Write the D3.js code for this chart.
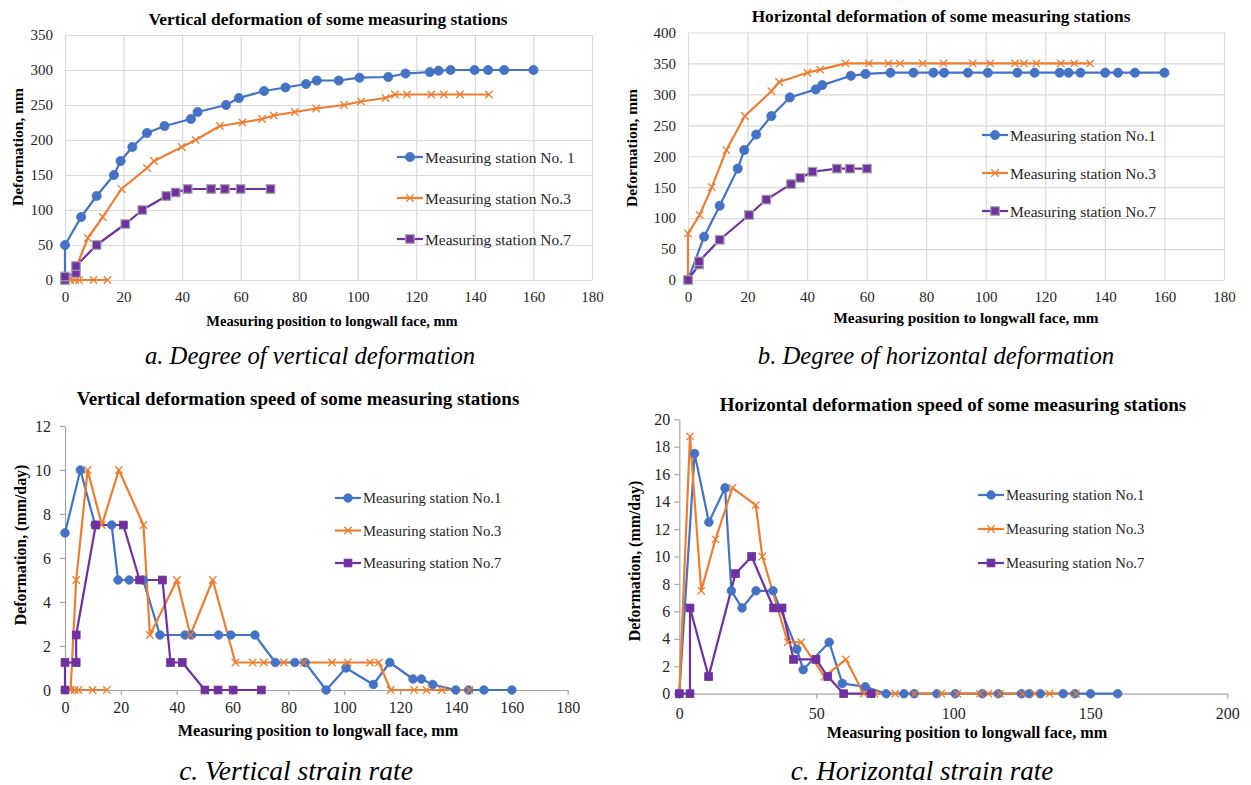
<!DOCTYPE html>
<html>
<head>
<meta charset="utf-8">
<script src="https://cdn.jsdelivr.net/npm/d3@7"></script>
<style>
  html, body { margin: 0; padding: 0; background: #fff; }
  svg { display: block; }
  svg text { font-family: "Liberation Serif", "Times New Roman", serif; }
</style>
</head>
<body>
<svg id="chart" width="1251" height="785"></svg>
<script>
// ---------- DATA ----------
const seriesNames = ["Measuring station No.1", "Measuring station No.3", "Measuring station No.7"];
const legendNamesA = ["Measuring station No. 1", "Measuring station No.3", "Measuring station No.7"];

// a. vertical deformation (mm)
const vertX1 = [0, 0, 5.5, 10.8, 16.7, 19, 23, 28, 34, 43, 45.3, 55, 59.4, 68, 75.3, 82.3, 86, 93.5, 100.6, 110.4, 116.3, 124.6, 127.6, 131.7, 139.9, 144.5, 150, 160];
const vertY1 = [0, 50, 90, 120, 150, 170, 190, 210, 220, 230, 240, 250, 260, 270, 275, 280, 285, 285, 289, 290, 295, 297, 299, 300, 300, 300, 300, 300];
const vertX3 = [14.5, 9.7, 4.8, 3.5, 1.7, 4, 7.8, 12.9, 19.3, 28, 30.4, 39.9, 44.6, 52.9, 60.6, 67.3, 71.3, 78.5, 85.8, 95.3, 101.1, 109.5, 112.7, 116.8, 125.1, 129.4, 134.9, 144.8];
const vertY3 = [0, 0, 0, 0, 0, 20, 60, 90, 130, 160, 170, 190, 200, 220, 225, 230, 235, 240, 245, 250, 255, 260, 265, 265, 265, 265, 265, 265];
const vertX7 = [0, 0, 3.75, 3.75, 10.8, 20.6, 26.4, 34.6, 37.8, 41.9, 49.9, 54.6, 60, 70.2];
const vertY7 = [0, 5, 10, 20, 50, 80, 100, 120, 125, 130, 130, 130, 130, 130];

// b. horizontal deformation (mm)
const horX1 = [0, 5.4, 10.65, 16.7, 18.9, 22.9, 28, 34.2, 42.9, 45.1, 54.7, 59.6, 68, 75.7, 82.4, 86, 94, 100.7, 110.6, 116.4, 124.8, 127.8, 131.8, 140.1, 144.4, 150.1, 160];
const horY1 = [0, 70, 120, 180, 210, 235, 265, 295, 308, 315, 330, 333, 335, 335, 335, 335, 335, 335, 335, 335, 335, 335, 335, 335, 335, 335, 335];
const horX3 = [0, 0, 3.9, 8, 12.9, 19.1, 28, 30.6, 40.1, 44.4, 52.9, 60.7, 67.3, 71.2, 78.8, 85.8, 95.6, 101.5, 109.8, 112.8, 117, 125.2, 129.7, 135.1];
const horY3 = [0, 75, 105, 150, 210, 265, 305, 320, 335, 340, 350, 350, 350, 350, 350, 350, 350, 350, 350, 350, 350, 350, 350, 350];
const horX7 = [0, 3.7, 3.7, 10.65, 20.5, 26.3, 34.6, 37.7, 41.8, 50, 54.4, 60.1];
const horY7 = [0, 25, 30, 65, 105, 130, 155, 165, 175, 180, 180, 180];

// c. vertical strain rate (mm/day)
const vrX1 = [0, 5.5, 10.8, 16.7, 19, 23, 28, 34, 43, 45.3, 55, 59.4, 68, 75.3, 82.3, 86, 93.5, 100.6, 110.4, 116.3, 124.6, 127.6, 131.7, 139.9, 144.5, 150, 160];
const vrY1 = [7.14, 10, 7.5, 7.5, 5, 5, 5, 2.5, 2.5, 2.5, 2.5, 2.5, 2.5, 1.25, 1.25, 1.25, 0, 1, 0.25, 1.25, 0.5, 0.5, 0.25, 0, 0, 0, 0];
const vrX3 = [15, 9.9, 4.8, 3.5, 2, 4, 8.1, 13.2, 19.3, 28.1, 30.4, 40.1, 44.9, 52.9, 61, 67.2, 71.2, 78.3, 85.5, 95.6, 101.2, 109.2, 112.4, 116.6, 125, 129.5, 134.9, 144.8];
const vrY3 = [0, 0, 0, 0, 0, 5, 10, 7.5, 10, 7.5, 2.5, 5, 2.5, 5, 1.25, 1.25, 1.25, 1.25, 1.25, 1.25, 1.25, 1.25, 1.25, 0, 0, 0, 0, 0];
const vrX7 = [0, 0, 4, 4, 11, 20.9, 26.7, 34.9, 37.8, 42, 50.1, 54.8, 60.2, 70.3];
const vrY7 = [0, 1.25, 1.25, 2.5, 7.5, 7.5, 5, 5, 1.25, 1.25, 0, 0, 0, 0];

// d. horizontal strain rate (mm/day)
const hrX1 = [0, 5.6, 10.8, 16.7, 19, 22.9, 28, 34.2, 42.9, 45.2, 54.7, 59.5, 67.9, 75.5, 82, 85.7, 94, 100.7, 110.6, 116.4, 124.8, 127.8, 131.8, 140.1, 144.4, 150.1, 160];
const hrY1 = [0, 17.5, 12.5, 15, 7.5, 6.25, 7.5, 7.5, 3.25, 1.75, 3.75, 0.75, 0.5, 0, 0, 0, 0, 0, 0, 0, 0, 0, 0, 0, 0, 0, 0];
const hrX3 = [0, 3.9, 8, 13.2, 19.4, 27.9, 30.3, 39.6, 44.5, 53, 60.8, 67.3, 71.2, 78.8, 85.8, 95.6, 101.5, 109.8, 112.8, 117, 125.2, 129.7, 135.1, 144.8];
const hrY3 = [0, 18.75, 7.5, 11.25, 15, 13.75, 10, 3.75, 3.75, 1.25, 2.5, 0, 0, 0, 0, 0, 0, 0, 0, 0, 0, 0, 0, 0];
const hrX7 = [0, 3.9, 3.9, 10.7, 20.5, 26.4, 34.4, 37.5, 41.7, 49.9, 54.2, 60, 70];
const hrY7 = [0, 0, 6.25, 1.25, 8.75, 10, 6.25, 6.25, 2.5, 2.5, 1.25, 0, 0];

// ticks
const ticksX180 = [0, 20, 40, 60, 80, 100, 120, 140, 160, 180];
const ticksX200 = [0, 50, 100, 150, 200];
const ticksY350 = [0, 50, 100, 150, 200, 250, 300, 350];
const ticksY400 = [0, 50, 100, 150, 200, 250, 300, 350, 400];
const ticksY12 = [0, 2, 4, 6, 8, 10, 12];
const ticksY20 = [0, 2, 4, 6, 8, 10, 12, 14, 16, 18, 20];

// ---------- STYLE ----------
const colors = ["#4472C4", "#ED7D31", "#7030A0"];
const svg = d3.select("#chart");
const zip = (xs, ys) => xs.map((x, i) => ({ x, y: ys[i] }));

function drawMarker(g, type, cx, cy, grid) {
  if (type === 0) {
    g.append("circle").attr("cx", cx).attr("cy", cy).attr("r", grid ? 4.6 : 4.3)
      .attr("fill", colors[0]).attr("stroke", colors[0]).attr("stroke-width", 0.8);
  } else if (type === 1) {
    const s = 3.7;
    g.append("path").attr("d", `M${cx - s},${cy - s}L${cx + s},${cy + s}M${cx - s},${cy + s}L${cx + s},${cy - s}`)
      .attr("stroke", colors[1]).attr("stroke-width", 1.3).attr("fill", "none");
  } else {
    const s = grid ? 4.3 : 3.9;
    g.append("rect").attr("x", cx - s).attr("y", cy - s).attr("width", 2 * s).attr("height", 2 * s)
      .attr("fill", colors[2]).attr("stroke", grid ? "#A5A5A5" : colors[2]).attr("stroke-width", grid ? 1.2 : 0.8);
  }
}

function panel(cfg) {
  const g = svg.append("g");
  const x = d3.scaleLinear().domain(cfg.xDomain).range([cfg.x0, cfg.x1]);
  const y = d3.scaleLinear().domain(cfg.yDomain).range([cfg.y0, cfg.y1]);
  const w = cfg.x1 - cfg.x0, h = cfg.y0 - cfg.y1;

  let gx, gy;
  if (cfg.grid) {
    gx = g.append("g").attr("transform", `translate(0,${cfg.y0})`)
      .call(d3.axisBottom(x).tickValues(cfg.xTicks).tickSize(-h).tickPadding(cfg.xPad).tickFormat(d3.format("d")));
    gy = g.append("g").attr("transform", `translate(${cfg.x0},0)`)
      .call(d3.axisLeft(y).tickValues(cfg.yTicks).tickSize(-w).tickPadding(cfg.yPad).tickFormat(d3.format("d")));
    [gx, gy].forEach(a => {
      a.select(".domain").remove();
      a.selectAll(".tick line").attr("stroke", "#D9D9D9").attr("stroke-width", 1.2);
    });
  } else {
    gx = g.append("g").attr("transform", `translate(0,${cfg.y0})`)
      .call(d3.axisBottom(x).tickValues(cfg.xTicks).tickSize(5).tickSizeOuter(0).tickPadding(cfg.xPad).tickFormat(d3.format("d")));
    gy = g.append("g").attr("transform", `translate(${cfg.x0},0)`)
      .call(d3.axisLeft(y).tickValues(cfg.yTicks).tickSize(5).tickSizeOuter(0).tickPadding(cfg.yPad).tickFormat(d3.format("d")));
    [gx, gy].forEach(a => {
      a.select(".domain").attr("stroke", "#A6A6A6").attr("stroke-width", 1.2);
      a.selectAll(".tick line").attr("stroke", "#A6A6A6").attr("stroke-width", 1.2);
    });
  }
  [gx, gy].forEach(a => {
    a.attr("font-family", null).attr("font-size", null);
    a.selectAll(".tick text").attr("fill", "#262626").style("font-size", cfg.tickFs + "px");
  });

  const line = d3.line().x(d => x(d.x)).y(d => y(d.y));
  cfg.series.forEach((s, i) => {
    g.append("path").datum(s).attr("d", line).attr("fill", "none")
      .attr("stroke", colors[i]).attr("stroke-width", 2.2).attr("stroke-linejoin", "round");
  });
  cfg.series.forEach((s, i) => {
    const mg = g.append("g");
    s.forEach(d => drawMarker(mg, i, x(d.x), y(d.y), cfg.grid));
  });

  // legend
  cfg.legend.names.forEach((nm, i) => {
    const ly = cfg.legend.y + i * cfg.legend.dy;
    const lx = cfg.legend.x;
    g.append("line").attr("x1", lx).attr("x2", lx + 26).attr("y1", ly).attr("y2", ly)
      .attr("stroke", colors[i]).attr("stroke-width", 2.2);
    drawMarker(g, i, lx + 13, ly, cfg.grid);
    g.append("text").attr("x", lx + 28).attr("y", ly).attr("dominant-baseline", "central")
      .attr("fill", "#262626").style("font-size", cfg.legend.fs + "px").text(nm);
  });

  g.append("text").attr("x", cfg.title.x).attr("y", cfg.title.y).attr("text-anchor", "middle")
    .style("font-weight", "bold").style("font-size", cfg.title.fs + "px").attr("fill", "#000").text(cfg.title.text);
  g.append("text").attr("x", cfg.xLabel.x).attr("y", cfg.xLabel.y).attr("text-anchor", "middle")
    .style("font-weight", "bold").style("font-size", cfg.xLabel.fs + "px").attr("fill", "#000").text(cfg.xLabel.text);
  g.append("text").attr("transform", `translate(${cfg.yLabel.x},${cfg.yLabel.y}) rotate(-90)`).attr("text-anchor", "middle")
    .style("font-weight", "bold").style("font-size", cfg.yLabel.fs + "px").attr("fill", "#000").text(cfg.yLabel.text);
  g.append("text").attr("x", cfg.caption.x).attr("y", cfg.caption.y).attr("text-anchor", "middle")
    .style("font-style", "italic").style("font-size", cfg.caption.fs + "px").attr("fill", "#000").text(cfg.caption.text);
}

const xLabelText = "Measuring position to longwall face, mm";

panel({
  grid: true, x0: 65, x1: 592, y0: 280, y1: 35, xDomain: [0, 180], yDomain: [0, 350],
  xTicks: ticksX180, yTicks: ticksY350, xPad: 11, yPad: 12, tickFs: 15,
  series: [zip(vertX1, vertY1), zip(vertX3, vertY3), zip(vertX7, vertY7)],
  legend: { names: legendNamesA, x: 397, y: 157, dy: 41, fs: 15.5 },
  title: { text: "Vertical deformation of some measuring stations", x: 328, y: 25, fs: 17.4 },
  xLabel: { text: xLabelText, x: 332, y: 326, fs: 14.5 },
  yLabel: { text: "Deformation, mm", x: 23, y: 147, fs: 15.5 },
  caption: { text: "a. Degree of vertical deformation", x: 310, y: 364, fs: 24.7 }
});

panel({
  grid: true, x0: 688, x1: 1224, y0: 280, y1: 32.5, xDomain: [0, 180], yDomain: [0, 400],
  xTicks: ticksX180, yTicks: ticksY400, xPad: 11, yPad: 12, tickFs: 15,
  series: [zip(horX1, horY1), zip(horX3, horY3), zip(horX7, horY7)],
  legend: { names: seriesNames, x: 982, y: 135, dy: 38, fs: 15.5 },
  title: { text: "Horizontal deformation of some measuring stations", x: 941, y: 22, fs: 17.3 },
  xLabel: { text: xLabelText, x: 966, y: 323, fs: 15.3 },
  yLabel: { text: "Deformation, mm", x: 637, y: 148, fs: 15.5 },
  caption: { text: "b. Degree of horizontal deformation", x: 936, y: 364, fs: 24.7 }
});

panel({
  grid: false, x0: 65, x1: 567.7, y0: 690, y1: 426, xDomain: [0, 180], yDomain: [0, 12],
  xTicks: ticksX180, yTicks: ticksY12, xPad: 7, yPad: 9, tickFs: 16,
  series: [zip(vrX1, vrY1), zip(vrX3, vrY3), zip(vrX7, vrY7)],
  legend: { names: seriesNames, x: 335, y: 498, dy: 32.5, fs: 14.7 },
  title: { text: "Vertical deformation speed of some measuring stations", x: 298, y: 405, fs: 19 },
  xLabel: { text: xLabelText, x: 318, y: 736, fs: 16.2 },
  yLabel: { text: "Deformation, (mm/day)", x: 26, y: 545, fs: 15.9 },
  caption: { text: "c. Vertical strain rate", x: 296, y: 780, fs: 27.5 }
});

panel({
  grid: false, x0: 679.3, x1: 1227.3, y0: 693.7, y1: 419.3, xDomain: [0, 200], yDomain: [0, 20],
  xTicks: ticksX200, yTicks: ticksY20, xPad: 9, yPad: 4, tickFs: 16,
  series: [zip(hrX1, hrY1), zip(hrX3, hrY3), zip(hrX7, hrY7)],
  legend: { names: seriesNames, x: 978, y: 495, dy: 34, fs: 14.7 },
  title: { text: "Horizontal deformation speed of some measuring stations", x: 953, y: 411, fs: 19 },
  xLabel: { text: xLabelText, x: 967, y: 738, fs: 16.2 },
  yLabel: { text: "Deformation, (mm/day)", x: 640, y: 561, fs: 15.9 },
  caption: { text: "c. Horizontal strain rate", x: 922, y: 780, fs: 27 }
});
</script>
</body>
</html>
